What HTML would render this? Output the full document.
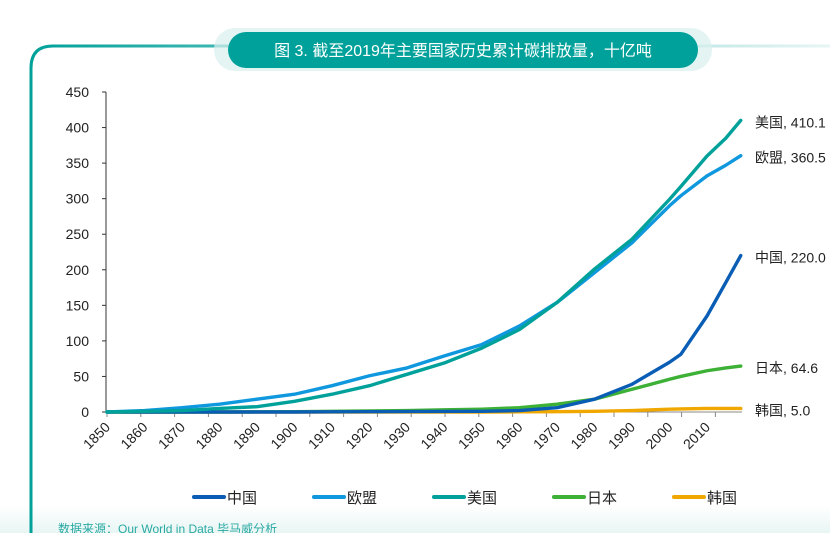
<!DOCTYPE html>
<html><head><meta charset="utf-8"><style>
body{margin:0;width:830px;height:533px;overflow:hidden;background:#fff;font-family:"Liberation Sans","Noto Sans CJK SC",sans-serif;}
#wrap{position:relative;width:830px;height:533px;}
</style></head><body><div id="wrap">
<svg id="svg" width="830" height="533" xmlns="http://www.w3.org/2000/svg">
<defs>
<linearGradient id="bg" x1="0" y1="0" x2="0" y2="1"><stop offset="0" stop-color="#fff"/><stop offset="1" stop-color="#e8f6f4"/></linearGradient>
<linearGradient id="tl" x1="0" y1="0" x2="1" y2="0"><stop offset="0" stop-color="#00a19a"/><stop offset="0.5" stop-color="#7fcfcb"/><stop offset="1" stop-color="#e6f5f4"/></linearGradient>
</defs>
<rect x="0" y="505" width="830" height="28" fill="url(#bg)"/>
<path d="M31,533 L31,68 Q31,46 53,46 L830,46" fill="none" stroke="url(#tl)" stroke-width="3"/>
<rect x="214" y="28" width="498" height="43" rx="21" fill="#d9f0ee" opacity="0.7"/>
<rect x="228" y="32" width="470" height="36" rx="18" fill="#00a19a"/>
<text x="463" y="56" text-anchor="middle" fill="#fff" font-size="16">图 3. 截至2019年主要国家历史累计碳排放量，十亿吨</text>
<g id="axes"></g><g id="series"></g><g id="legend"></g>
<text x="58" y="533" fill="#2aa9a3" font-size="12">数据来源：Our World in Data 毕马威分析</text>
</svg></div>
<script>
const yTicks=[0,50,100,150,200,250,300,350,400,450];
const xTicks=[1850,1860,1870,1880,1890,1900,1910,1920,1930,1940,1950,1960,1970,1980,1990,2000,2010];
const names=["中国","欧盟","美国","日本","韩国"];
const colors=["#0a5db5","#0f98de","#00a19a","#3db036","#f0a800"];
const endLabels=["220.0","360.5","410.1","64.6","5.0"];
const years=[1850,1860,1870,1880,1890,1900,1910,1920,1930,1940,1950,1960,1970,1980,1990,2000,2003,2010,2015,2019];
const china=[0,0,0,0,0,0,0.2,0.4,0.6,0.8,1,2,6,18,39,70,81,135,182,220];
const eu=[0,2,6,11,18,25,37,51,62,79,95,121,154,196,238,290,304,332,347,360.5];
const usa=[0,1,2,5,7.5,15,25,37,53,69,90,116,154,201,243,299,317,360,385,410.1];
const japan=[0,0,0,0,0.2,0.5,1,1.5,2,3,4,6,11,18,32,46,50,58,62,64.6];
const korea=[0,0,0,0,0,0,0,0,0,0,0,0.2,0.5,1,2,4,4.3,5,5,5];
const seriesData=[china,eu,usa,japan,korea];
const X=y=>107+(y-1850)*3.75, Y=v=>412-v*0.7111;
const XL=y=>111+(y-1850)*3.75;
const NS="http://www.w3.org/2000/svg";
function mk(t,a,p){const e=document.createElementNS(NS,t);for(const k in a)e.setAttribute(k,a[k]);p.appendChild(e);return e;}
const ax=document.getElementById('axes');
let yl=mk('line',{x1:106,y1:Y(450),x2:106,y2:412,stroke:'#333','stroke-width':1},ax);


let xl=mk('line',{x1:106,y1:412,x2:742,y2:412,stroke:'#888','stroke-width':1},ax);


yTicks.forEach(v=>{mk('line',{x1:102,y1:Y(v),x2:106,y2:Y(v),stroke:'#333'},ax);
 const t=mk('text',{x:89,y:Y(v)+5,'text-anchor':'end','font-size':14,fill:'#222'},ax);t.textContent=v;
 
 });
for(let k=0;k<19;k++){const tx=107+k*33.8;mk('line',{x1:tx,y1:412,x2:tx,y2:417,stroke:'#888'},ax);}
xTicks.forEach(v=>{const ax0=XL(v), ay0=428;
 const t=mk('text',{x:ax0,y:ay0,'text-anchor':'end','font-size':14,fill:'#222',transform:`rotate(-45 ${ax0} ${ay0})`},ax);t.textContent=v;
 
 });
const sg=document.getElementById('series');
[4,3,0,1,2].forEach(i=>{const d=seriesData[i];
 const p=mk('polyline',{points:years.map((y,j)=>X(y)+','+Y(d[j])).join(' '),fill:'none',stroke:colors[i],'stroke-width':3.4,'stroke-linejoin':'round','stroke-linecap':'round'},sg);
 
 
 const t=mk('text',{x:755,y:Y(d[d.length-1])+7,'font-size':14,fill:'#222'},sg);t.textContent=names[i]+', '+endLabels[i];
 
 });
const lg=document.getElementById('legend');
names.forEach((n,i)=>{const x=194+i*120;
 const g=mk('g',{},lg);
 
 
 mk('line',{x1:x,y1:497,x2:x+30,y2:497,stroke:colors[i],'stroke-width':4,'stroke-linecap':'round'},g);
 const t=mk('text',{x:x+33,y:503,'font-size':15,fill:'#222'},g);t.textContent=n;});
</script></body></html>
